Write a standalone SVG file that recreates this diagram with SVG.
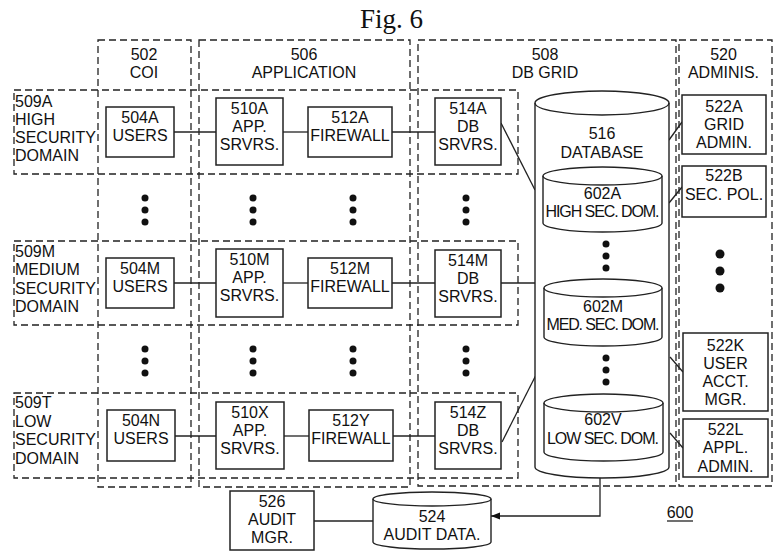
<svg xmlns="http://www.w3.org/2000/svg" width="779" height="558" viewBox="0 0 779 558">
<style>
.dash{fill:none;stroke:#222;stroke-width:1.3;stroke-dasharray:7 4}
.box{fill:#fff;stroke:#222;stroke-width:1.5}
.cyl{fill:#fff;stroke:#222;stroke-width:1.4}
.ln{fill:none;stroke:#222;stroke-width:1.3}
.t{font-family:"Liberation Sans",Arial,sans-serif;font-size:16px;fill:#111;text-anchor:middle}
.l{text-anchor:start}
.dot{fill:#111}
</style>
<defs>
<marker id="arr" viewBox="0 0 10 10" refX="10" refY="5" markerWidth="9" markerHeight="9" markerUnits="userSpaceOnUse" orient="auto">
<path d="M0,1 L10,5 L0,9 Z" fill="#111"/>
</marker>
</defs>
<rect width="779" height="558" fill="#fff"/>
<text x="391.5" y="28" style="font-family:'Liberation Serif','Times New Roman',serif;font-size:27px;fill:#111" text-anchor="middle">Fig. 6</text>

<g id="columns">
<g id="col502"><rect class="dash" x="98" y="40" width="93" height="447"/><text class="t" x="144" y="60">502</text><text class="t" x="144" y="78">COI</text></g>
<g id="col506"><rect class="dash" x="199" y="40" width="211" height="447"/><text class="t" x="304" y="60">506</text><text class="t" x="304" y="78">APPLICATION</text></g>
<g id="col508"><rect class="dash" x="418" y="40" width="258" height="446"/><text class="t" x="545" y="60">508</text><text class="t" x="545" y="78">DB GRID</text></g>
<g id="col520"><rect class="dash" x="679" y="40" width="93" height="446"/><text class="t" x="723.5" y="60">520</text><text class="t" x="723.5" y="78">ADMINIS.</text></g>
</g>

<g id="rows">
<g id="row509A"><rect class="dash" x="14" y="90" width="504" height="84"/><text class="t l" x="15" y="107">509A</text><text class="t l" x="15" y="125">HIGH</text><text class="t l" x="15" y="143">SECURITY</text><text class="t l" x="15" y="161">DOMAIN</text></g>
<g id="row509M"><rect class="dash" x="14" y="241" width="504" height="84"/><text class="t l" x="15" y="257">509M</text><text class="t l" x="15" y="275">MEDIUM</text><text class="t l" x="15" y="294">SECURITY</text><text class="t l" x="15" y="312">DOMAIN</text></g>
<g id="row509T"><rect class="dash" x="14" y="393" width="504" height="85"/><text class="t l" x="15" y="408">509T</text><text class="t l" x="15" y="426.5">LOW</text><text class="t l" x="15" y="445">SECURITY</text><text class="t l" x="15" y="463.5">DOMAIN</text></g>
</g>

<g id="connectors">
<line class="ln" x1="174" y1="132" x2="216" y2="132"/>
<line class="ln" x1="283" y1="132" x2="308" y2="132"/>
<line class="ln" x1="392" y1="132" x2="435" y2="132"/>
<line class="ln" x1="501" y1="123" x2="535" y2="190"/>
<line class="ln" x1="174" y1="283" x2="216" y2="283"/>
<line class="ln" x1="283" y1="283" x2="308" y2="283"/>
<line class="ln" x1="392" y1="283" x2="435" y2="283"/>
<line class="ln" x1="501" y1="283" x2="535" y2="283"/>
<line class="ln" x1="175" y1="436" x2="216" y2="436"/>
<line class="ln" x1="284" y1="436" x2="309" y2="436"/>
<line class="ln" x1="393" y1="436" x2="435" y2="436"/>
<line class="ln" x1="502" y1="442" x2="536" y2="375"/>
<line class="ln" x1="669" y1="140" x2="682" y2="122"/>
<line class="ln" x1="669" y1="203" x2="682" y2="187"/>
<line class="ln" x1="670" y1="357" x2="683" y2="372"/>
<line class="ln" x1="670" y1="433" x2="683" y2="448"/>
<line class="ln" x1="314" y1="521" x2="373" y2="521"/>
<path class="ln" d="M600,478 L600,516 L491,516" marker-end="url(#arr)"/>
</g>

<g id="n504A"><rect class="box" x="106" y="107" width="68" height="50"/><text class="t" x="140" y="123">504A</text><text class="t" x="140" y="141">USERS</text></g>
<g id="n510A"><rect class="box" x="216" y="98" width="67" height="67"/><text class="t" x="249.5" y="114">510A</text><text class="t" x="249.5" y="132">APP.</text><text class="t" x="249.5" y="150">SRVRS.</text></g>
<g id="n512A"><rect class="box" x="308" y="107" width="84" height="50"/><text class="t" x="350" y="123">512A</text><text class="t" x="350" y="141">FIREWALL</text></g>
<g id="n514A"><rect class="box" x="435" y="98" width="66" height="67"/><text class="t" x="468" y="114">514A</text><text class="t" x="468" y="132">DB</text><text class="t" x="468" y="150">SRVRS.</text></g>

<g id="n504M"><rect class="box" x="106" y="258" width="68" height="50"/><text class="t" x="140" y="274">504M</text><text class="t" x="140" y="292">USERS</text></g>
<g id="n510M"><rect class="box" x="216" y="249" width="67" height="68"/><text class="t" x="249.5" y="265">510M</text><text class="t" x="249.5" y="283">APP.</text><text class="t" x="249.5" y="301">SRVRS.</text></g>
<g id="n512M"><rect class="box" x="308" y="258" width="84" height="50"/><text class="t" x="350" y="274">512M</text><text class="t" x="350" y="292">FIREWALL</text></g>
<g id="n514M"><rect class="box" x="435" y="250" width="66" height="67"/><text class="t" x="468" y="266">514M</text><text class="t" x="468" y="284">DB</text><text class="t" x="468" y="302">SRVRS.</text></g>

<g id="n504N"><rect class="box" x="107" y="410" width="68" height="51"/><text class="t" x="141" y="426">504N</text><text class="t" x="141" y="444">USERS</text></g>
<g id="n510X"><rect class="box" x="216" y="402" width="68" height="67"/><text class="t" x="250" y="418">510X</text><text class="t" x="250" y="436">APP.</text><text class="t" x="250" y="454">SRVRS.</text></g>
<g id="n512Y"><rect class="box" x="309" y="410" width="84" height="51"/><text class="t" x="351" y="426">512Y</text><text class="t" x="351" y="444">FIREWALL</text></g>
<g id="n514Z"><rect class="box" x="435" y="402" width="66" height="67"/><text class="t" x="468" y="418">514Z</text><text class="t" x="468" y="436">DB</text><text class="t" x="468" y="454">SRVRS.</text></g>

<g id="dots">
<circle class="dot" cx="145" cy="198" r="3.5"/><circle class="dot" cx="145" cy="210" r="3.5"/><circle class="dot" cx="145" cy="222" r="3.5"/>
<circle class="dot" cx="253" cy="198" r="3.5"/><circle class="dot" cx="253" cy="210" r="3.5"/><circle class="dot" cx="253" cy="222" r="3.5"/>
<circle class="dot" cx="353" cy="198" r="3.5"/><circle class="dot" cx="353" cy="210" r="3.5"/><circle class="dot" cx="353" cy="222" r="3.5"/>
<circle class="dot" cx="466" cy="198" r="3.5"/><circle class="dot" cx="466" cy="210" r="3.5"/><circle class="dot" cx="466" cy="222" r="3.5"/>
<circle class="dot" cx="145" cy="349" r="3.5"/><circle class="dot" cx="145" cy="361" r="3.5"/><circle class="dot" cx="145" cy="373" r="3.5"/>
<circle class="dot" cx="253" cy="349" r="3.5"/><circle class="dot" cx="253" cy="361" r="3.5"/><circle class="dot" cx="253" cy="373" r="3.5"/>
<circle class="dot" cx="353" cy="349" r="3.5"/><circle class="dot" cx="353" cy="361" r="3.5"/><circle class="dot" cx="353" cy="373" r="3.5"/>
<circle class="dot" cx="466" cy="349" r="3.5"/><circle class="dot" cx="466" cy="361" r="3.5"/><circle class="dot" cx="466" cy="373" r="3.5"/>
<circle class="dot" cx="720" cy="254" r="4.5"/><circle class="dot" cx="720" cy="271" r="4.5"/><circle class="dot" cx="720" cy="288" r="4.5"/>
</g>

<g id="n516">
<path class="cyl" d="M535,103 A67,12 0 0 1 669,103 L669,467 A67,11 0 0 1 535,467 Z"/>
<path class="ln" d="M535,103 A67,12 0 0 0 669,103"/>
<text class="t" x="602" y="139">516</text><text class="t" x="602" y="158">DATABASE</text>
</g>
<g id="n602A">
<path class="cyl" d="M543,176 A59.5,9 0 0 1 662,176 L662,223 A59.5,9 0 0 1 543,223 Z"/>
<path class="ln" d="M543,176 A59.5,9 0 0 0 662,176"/>
<text class="t" x="602.5" y="199">602A</text><text class="t" x="602.5" y="217" textLength="114" lengthAdjust="spacing">HIGH SEC. DOM.</text>
</g>
<g id="dbdots">
<circle class="dot" cx="606" cy="244" r="3.5"/><circle class="dot" cx="606" cy="256" r="3.5"/><circle class="dot" cx="606" cy="268" r="3.5"/>
<circle class="dot" cx="606" cy="358" r="3.5"/><circle class="dot" cx="606" cy="370" r="3.5"/><circle class="dot" cx="606" cy="382" r="3.5"/>
</g>
<g id="n602M">
<path class="cyl" d="M544,288 A59,9 0 0 1 662,288 L662,337 A59,9 0 0 1 544,337 Z"/>
<path class="ln" d="M544,288 A59,9 0 0 0 662,288"/>
<text class="t" x="603" y="312">602M</text><text class="t" x="603" y="330" textLength="113" lengthAdjust="spacing">MED. SEC. DOM.</text>
</g>
<g id="n602V">
<path class="cyl" d="M544,403 A59.5,9 0 0 1 663,403 L663,452 A59.5,9 0 0 1 544,452 Z"/>
<path class="ln" d="M544,403 A59.5,9 0 0 0 663,403"/>
<text class="t" x="603" y="425">602V</text><text class="t" x="603" y="444" textLength="112" lengthAdjust="spacing">LOW SEC. DOM.</text>
</g>

<g id="n522A"><rect class="box" x="682" y="95" width="84" height="59"/><text class="t" x="724" y="112">522A</text><text class="t" x="724" y="130">GRID</text><text class="t" x="724" y="148">ADMIN.</text></g>
<g id="n522B"><rect class="box" x="682" y="166" width="84" height="51"/><text class="t" x="724" y="181">522B</text><text class="t" x="724" y="200">SEC. POL.</text></g>
<g id="n522K"><rect class="box" x="683" y="333" width="85" height="78"/><text class="t" x="725.5" y="351">522K</text><text class="t" x="725.5" y="369">USER</text><text class="t" x="725.5" y="387">ACCT.</text><text class="t" x="725.5" y="405">MGR.</text></g>
<g id="n522L"><rect class="box" x="683" y="419" width="85" height="58"/><text class="t" x="725.5" y="435">522L</text><text class="t" x="725.5" y="453">APPL.</text><text class="t" x="725.5" y="472">ADMIN.</text></g>

<g id="n526"><rect class="box" x="230" y="491" width="84" height="59"/><text class="t" x="272" y="507">526</text><text class="t" x="272" y="525">AUDIT</text><text class="t" x="272" y="543">MGR.</text></g>
<g id="n524">
<path class="cyl" d="M373,499 A59,7 0 0 1 491,499 L491,542 A59,7 0 0 1 373,542 Z"/>
<path class="ln" d="M373,499 A59,7 0 0 0 491,499"/>
<text class="t" x="432" y="522">524</text><text class="t" x="432" y="540">AUDIT DATA.</text>
</g>

<g id="ref600"><text class="t" x="680" y="518">600</text><line class="ln" x1="667" y1="521" x2="693" y2="521"/></g>
</svg>
